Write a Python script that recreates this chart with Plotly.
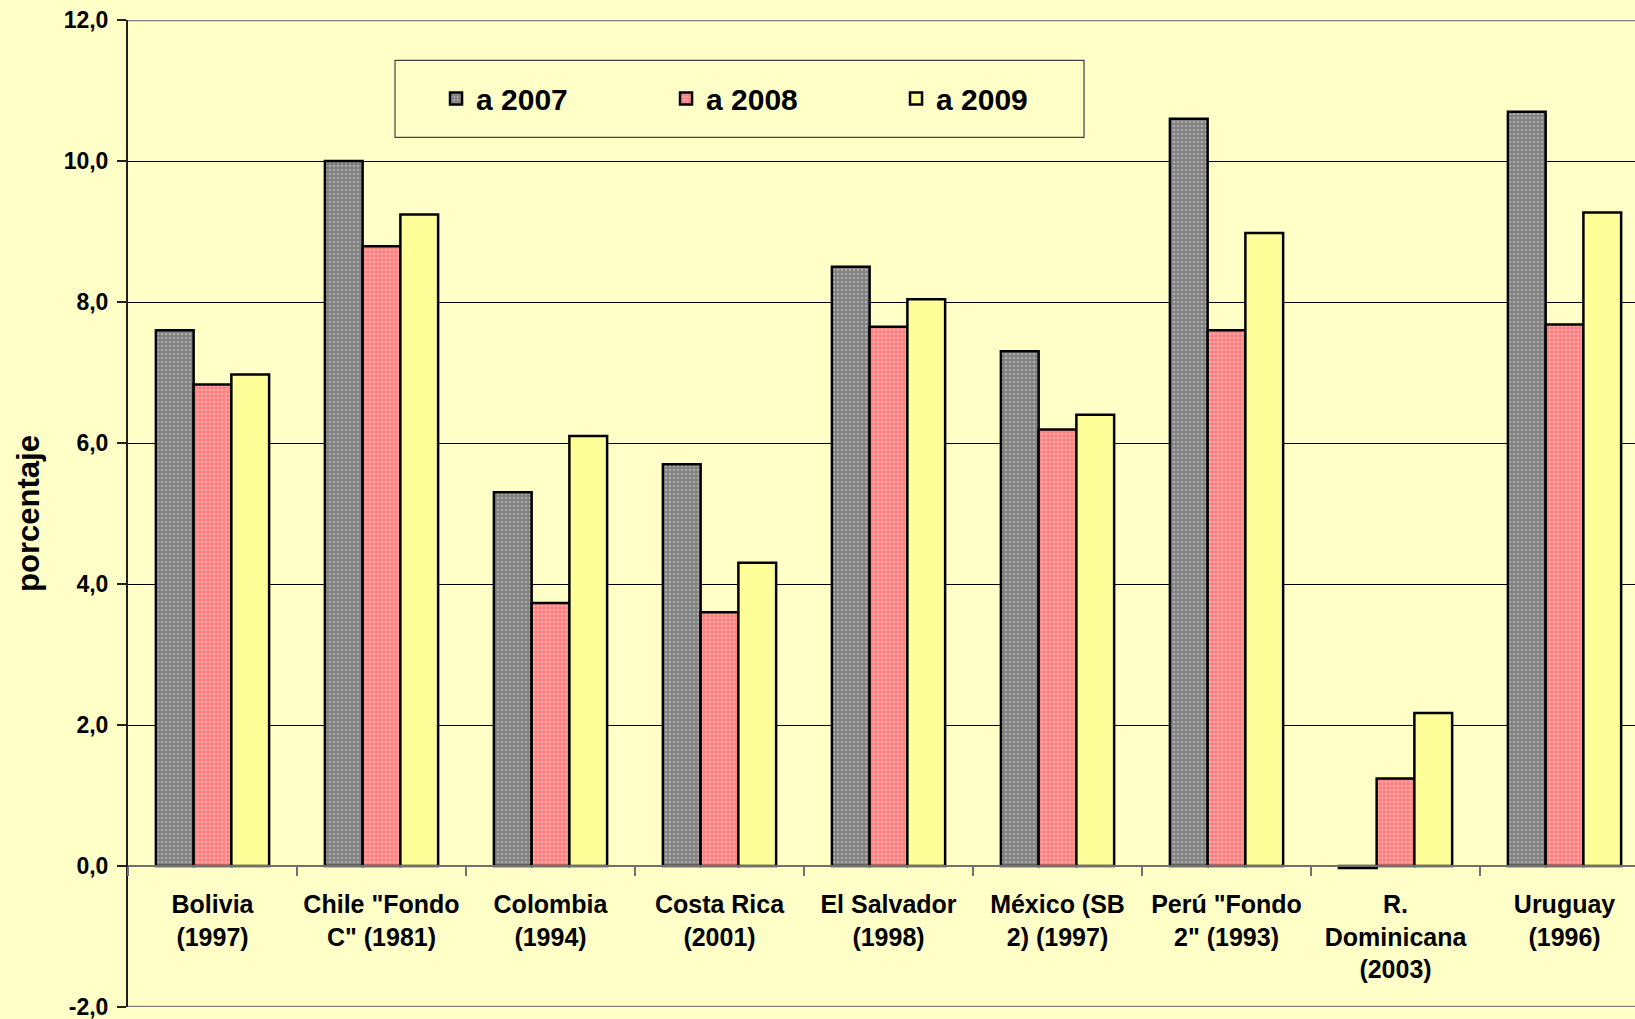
import plotly.graph_objects as go

categories = [
    "Bolivia<br>(1997)",
    "Chile \"Fondo<br>C\" (1981)",
    "Colombia<br>(1994)",
    "Costa Rica<br>(2001)",
    "El Salvador<br>(1998)",
    "México (SB<br>2) (1997)",
    "Perú \"Fondo<br>2\" (1993)",
    "R.<br>Dominicana<br>(2003)",
    "Uruguay<br>(1996)",
]
series_names = ["a 2007", "a 2008", "a 2009"]
values_2007 = [7.6, 10.0, 5.3, 5.7, 8.5, 7.3, 10.6, -0.03, 10.7]
values_2008 = [6.83, 8.79, 3.73, 3.6, 7.65, 6.19, 7.6, 1.24, 7.68]
values_2009 = [6.97, 9.24, 6.1, 4.3, 8.04, 6.4, 8.98, 2.17, 9.27]
y_tickvals = [-2, 0, 2, 4, 6, 8, 10, 12]
y_ticktext = ["-2,0", "0,0", "2,0", "4,0", "6,0", "8,0", "10,0", "12,0"]

BG = "#FFFFC8"
FONT = "Liberation Sans, Arial, sans-serif"

fig = go.Figure()
fig.add_trace(go.Bar(
    x=categories, y=values_2007, name=series_names[0],
    marker=dict(color="#808080", line=dict(color="black", width=2.5),
                pattern=dict(shape=".", bgcolor="#808080", fgcolor="#D8D8D8",
                             size=4, solidity=0.35)),
))
fig.add_trace(go.Bar(
    x=categories, y=values_2008, name=series_names[1],
    marker=dict(color="#FF8080", line=dict(color="black", width=2.5),
                pattern=dict(shape=".", bgcolor="#FF8080", fgcolor="#FFD8D8",
                             size=4, solidity=0.35)),
))
fig.add_trace(go.Bar(
    x=categories, y=values_2009, name=series_names[2],
    marker=dict(color="#FFFF99", line=dict(color="black", width=2.5)),
))

# plot frame lines (top and bottom)
for yv in (12, -2):
    fig.add_shape(type="line", xref="paper", yref="y", x0=0, x1=1, y0=yv, y1=yv,
                  line=dict(color="#808080", width=2.5), layer="above")

# legend frame
fig.add_shape(type="rect", xref="paper", yref="paper",
              x0=0.1772, x1=0.6344, y0=0.881, y1=0.959,
              line=dict(color="#404040", width=1.2), fillcolor=BG, layer="below")

fig.update_layout(
    width=1635, height=1019,
    margin=dict(l=128, r=0, t=19.5, b=12),
    paper_bgcolor=BG, plot_bgcolor=BG,
    barmode="group", bargap=0.33, bargroupgap=0,
    separators=",.",
    font=dict(family=FONT, color="black"),
    showlegend=True,
    legend=dict(orientation="h", x=0.2044, y=0.9205, xanchor="left", yanchor="middle",
                bgcolor="rgba(0,0,0,0)", borderwidth=0,
                entrywidth=185, entrywidthmode="pixels",
                font=dict(family=FONT, size=30, weight="bold", color="black")),
    xaxis=dict(
        type="category", range=[-0.5, 8.417],
        anchor="free", position=2 / 14,
        showline=True, linecolor="#707070", linewidth=2,
        ticks="outside", tickson="boundaries", ticklen=9, tickcolor="#707070", tickwidth=1.5,
        showgrid=False, ticklabelstandoff=16,
        tickfont=dict(family=FONT, size=25, weight="bold", color="black"),
    ),
    yaxis=dict(
        range=[-2, 12], tickvals=y_tickvals, ticktext=y_ticktext,
        showline=True, linecolor="#202020", linewidth=2,
        ticks="outside", ticklen=9, tickcolor="#202020", tickwidth=1.5,
        showgrid=True, gridcolor="black", gridwidth=1,
        zeroline=False, ticklabelstandoff=4, ticklabeloverflow="allow",
        tickfont=dict(family=FONT, size=23, weight="bold", color="black"),
        title=dict(text="porcentaje", standoff=15,
                   font=dict(family=FONT, size=31, weight="bold", color="black")),
    ),
)

fig.write_html("out.html", config={"displayModeBar": False},
               post_script="document.body.style.margin='0';document.body.style.overflow='hidden';")
